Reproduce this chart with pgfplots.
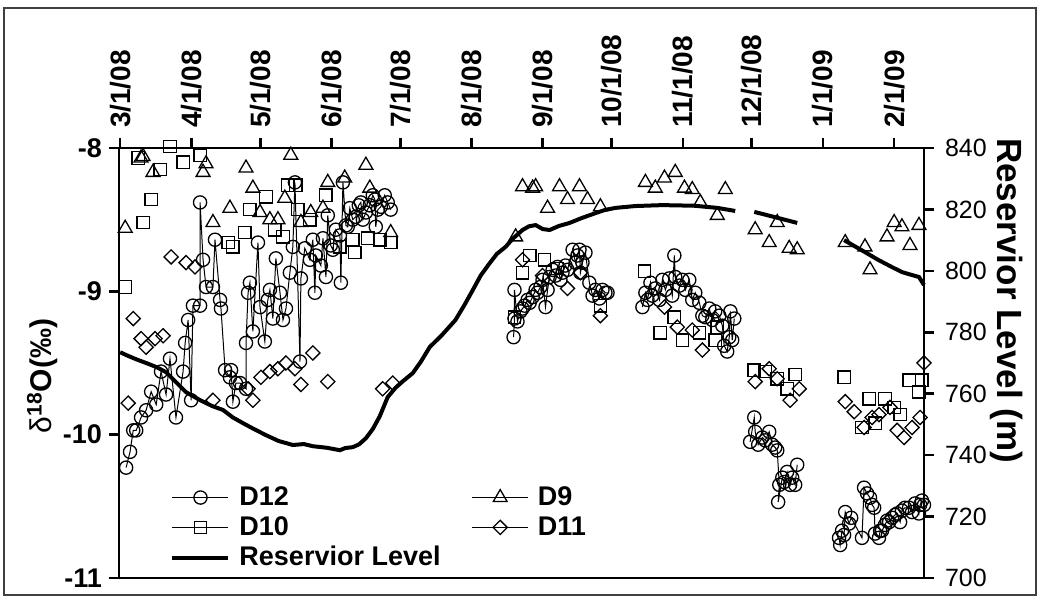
\documentclass[border=0pt]{standalone}
\usepackage{pgfplots}
\pgfplotsset{compat=1.18}
\usepackage{fontspec}
\setmainfont{Liberation Sans}
\pgfplotsset{
  common/.style={
    scale only axis, width=402.5pt, height=215pt,
    at={(59.5pt,12.5pt)}, anchor=south west,
    xmin=-0.5, xmax=350,
    clip=false,
    axis line style={line width=1.3pt},
    tick style={line width=1.3pt, black},
    major tick length=5pt,
    tick align=outside,
  },
  lg/.style={legend image code/.code={
     \draw[black, line width=0.6pt] (0pt,0pt) -- (28pt,0pt);
     \draw[##1, mark repeat=1] plot coordinates {(14pt,0pt)};}},
}
\begin{document}
\begin{tikzpicture}[x=0.5pt,y=0.5pt]
\useasboundingbox (0,0) rectangle (1041,603);
\draw[line width=1pt, black!75] (4,8) rectangle (1036,595);
\begin{axis}[common,
  ymin=-11, ymax=-8,
  ytick={-11,-10,-9,-8}, yticklabels={-11,-10,-9,-8},
  ytick pos=left,
  xtick pos=right, xticklabel pos=right,
  xtick={0,31,61,92,122,153,184,214,245,275,306,337},
  xticklabels={3/1/08,4/1/08,5/1/08,6/1/08,7/1/08,8/1/08,9/1/08,10/1/08,11/1/08,12/1/08,1/1/09,2/1/09},
  xticklabel style={rotate=90, anchor=west, xshift=1.5pt, font=\bfseries\fontsize{14}{16}\selectfont},
  yticklabel style={font=\bfseries\fontsize{13.5}{15}\selectfont},
  every axis y label/.style={at={(rel axis cs:-0.095,0.47)}, rotate=90, anchor=center},
  ylabel={\fontsize{15}{16}\selectfont δ\textsuperscript{\textbf{18}}\textbf{O(‰)}},
  legend columns=2,
  legend cell align=left,
  legend style={draw=none, fill=none, at={(rel axis cs:0.056,0.232)}, anchor=north west,
    font=\bfseries\fontsize{13.5}{14}\selectfont,
    /tikz/every odd column/.append style={column sep=2.5pt},
    /tikz/every even column/.append style={column sep=13.5pt}},
  unbounded coords=jump,
]
% D12
\addplot[black, line width=0.5pt, mark=o, mark size=3.3pt, mark options={line width=0.65pt}, lg] coordinates {
(2.6,-10.23) (4.3,-10.12) (5.7,-9.97) (7.0,-9.97) (9.1,-9.88) (11.3,-9.83) (13.5,-9.70) (15.7,-9.79) (17.8,-9.56) (20.0,-9.72) (21.7,-9.47) (24.3,-9.88) (27.4,-9.56) (28.3,-9.36) (29.6,-9.20) (30.9,-9.76) (31.7,-9.10) (34.8,-9.10) (34.8,-8.38) (36.1,-8.78) (37.4,-8.97) (40.4,-8.97) (41.3,-8.64) (43.5,-9.06) (43.9,-9.12) (45.7,-9.55) (47.8,-9.60) (48.3,-9.55) (49.1,-9.77) (50.4,-9.64) (52.2,-9.64) (54.8,-9.68) (54.8,-9.36) (55.7,-9.01) (56.5,-8.94) (57.8,-9.28) (60.0,-8.66) (60.9,-9.11) (63.0,-9.35) (64.3,-9.06) (65.2,-8.99) (66.5,-9.19) (67.8,-8.77) (69.6,-9.01) (70.9,-9.20) (72.2,-9.12) (73.9,-8.87) (75.2,-8.69) (76.1,-8.24) (78.3,-9.49) (78.7,-8.91) (80.4,-8.70) (82.6,-8.78) (83.9,-8.64) (84.8,-9.01) (85.2,-8.75) (87.4,-8.82) (88.3,-8.63) (89.6,-8.90) (90.4,-8.47) (91.7,-8.68) (92.6,-8.71) (93.9,-8.57) (95.7,-8.61) (96.1,-8.94) (97.0,-8.24) (98.3,-8.54) (99.1,-8.55) (100.0,-8.42) (101.3,-8.50) (102.6,-8.48) (103.9,-8.40) (104.8,-8.38) (105.7,-8.50) (107.0,-8.45) (108.7,-8.40) (110.0,-8.33) (110.9,-8.36) (111.3,-8.55) (112.2,-8.43) (113.5,-8.41) (115.2,-8.33) (116.5,-8.38) (117.8,-8.43)
(150,nan)
(171.3,-9.32) (171.7,-9.19) (171.7,-8.99) (173.0,-9.21) (174.3,-9.14) (175.2,-9.12) (176.1,-9.10) (177.4,-9.06) (178.3,-9.08) (179.6,-9.04) (180.9,-8.99) (181.7,-9.01) (183.0,-8.97) (183.9,-8.92) (185.2,-9.11) (186.1,-8.99) (187.0,-8.90) (188.3,-8.85) (189.6,-8.89) (190.4,-8.83) (191.7,-8.92) (192.6,-8.87) (193.9,-8.82) (194.8,-8.85) (197.0,-8.71) (198.3,-8.80) (199.1,-8.75) (200.0,-8.71) (200.4,-8.87) (201.3,-8.80) (202.6,-8.73) (204.3,-8.94) (205.7,-9.03) (206.9,-8.99) (208.7,-9.05) (210.0,-8.99) (211.3,-9.01) (212.2,-9.01)
(220,nan)
(227.4,-9.11) (228.7,-9.01) (229.6,-9.06) (230.9,-8.94) (231.7,-9.03) (233.0,-8.98) (234.8,-9.06) (236.1,-8.92) (237.4,-8.99) (239.1,-8.91) (240.4,-9.03) (241.3,-8.75) (241.7,-8.90) (243.5,-8.96) (244.8,-8.92) (246.1,-8.99) (247.8,-8.92) (249.1,-9.06) (250.4,-9.01) (252.2,-9.08) (253.5,-9.17) (254.8,-9.18) (256.5,-9.12) (257.8,-9.20) (259.1,-9.14) (260.9,-9.17) (262.2,-9.24) (263.0,-9.38) (264.3,-9.42) (265.2,-9.32) (265.7,-9.14) (266.5,-9.34) (267.4,-9.19)
(270,nan)
(274.3,-10.05) (276.1,-9.88) (276.5,-9.98) (277.8,-10.07) (279.6,-10.02) (280.9,-10.04) (282.6,-9.98) (283.9,-10.07) (285.2,-10.09) (286.1,-10.11) (287.0,-10.35) (286.5,-10.47) (288.3,-10.30) (289.1,-10.33) (290.4,-10.26) (291.7,-10.35) (292.6,-10.30) (293.9,-10.35) (294.8,-10.21)
(300,nan)
(313.0,-10.72) (313.5,-10.77) (314.3,-10.67) (315.2,-10.70) (315.7,-10.54) (317.4,-10.62) (318.3,-10.58) (323.0,-10.72) (323.9,-10.37) (325.2,-10.41) (326.5,-10.44) (327.4,-10.49) (328.3,-10.51) (328.7,-10.69) (330.4,-10.72) (330.9,-10.67) (331.7,-10.67) (333.0,-10.63) (333.9,-10.60) (334.8,-10.61) (336.1,-10.58) (337.4,-10.56) (338.3,-10.55) (339.6,-10.61) (340.4,-10.53) (341.7,-10.51) (343.5,-10.51) (344.8,-10.54) (346.1,-10.48) (347.8,-10.55) (348.3,-10.49) (349.1,-10.46) (350.0,-10.49)
};
\addlegendentry{D12}
% D9
\addplot[black, only marks, mark=triangle, mark size=4pt, mark options={line width=0.65pt}, lg] coordinates {
(2.2,-8.56) (9.1,-8.07) (10.0,-8.06) (14.3,-8.17) (36.1,-8.17) (37.4,-8.11) (54.8,-8.14) (74.3,-8.05) (57.8,-8.28) (47.8,-8.42) (40.4,-8.52) (60.9,-8.45) (65.2,-8.50) (68.7,-8.50) (71.7,-8.35) (78.7,-8.52) (83.0,-8.45) (88.3,-8.42) (90.4,-8.24) (97.8,-8.21) (107.0,-8.12) (108.7,-8.28) (117.8,-8.59)
(172.2,-8.62) (175.2,-8.27) (179.6,-8.28) (180.9,-8.27) (186.1,-8.42) (191.3,-8.27) (194.8,-8.36) (200.0,-8.27) (203.5,-8.36) (209.1,-8.41)
(228.7,-8.24) (233.0,-8.28) (237.0,-8.21) (241.7,-8.17) (245.7,-8.28) (249.1,-8.29) (252.6,-8.38) (260.0,-8.47) (263.5,-8.29)
(276.5,-8.57) (286.1,-8.52) (282.6,-8.66) (291.3,-8.70) (294.8,-8.71)
(315.7,-8.66) (324.3,-8.69) (326.5,-8.85) (333.9,-8.62) (337.0,-8.52) (340.4,-8.55) (343.9,-8.68) (347.8,-8.54)
};
\addlegendentry{D9}
% D10
\addplot[black, only marks, mark=square, mark size=3.1pt, mark options={line width=0.65pt}, lg] coordinates {
(2.2,-8.97) (7.8,-8.07) (21.7,-7.99) (27.4,-8.10) (17.4,-8.15) (13.5,-8.36) (10.0,-8.52) (34.8,-8.05) (54.3,-8.59) (49.1,-8.69) (47.0,-8.66) (56.5,-8.43) (63.5,-8.34) (73.0,-8.26) (76.5,-8.26) (77.4,-8.43) (70.9,-8.62) (67.4,-8.57) (89.6,-8.33) (82.6,-8.50) (101.3,-8.64) (102.2,-8.73) (107.8,-8.63) (113.0,-8.64) (117.8,-8.66) (95.7,-8.69)
(178.3,-8.75) (175.2,-8.87) (184.8,-8.78) (190.4,-8.84) (171.7,-9.18) (209.1,-9.10)
(228.3,-8.86) (235.2,-9.29) (241.3,-9.18) (244.8,-9.34) (252.2,-9.29) (259.1,-9.34) (260.0,-9.25)
(276.1,-9.55) (280.9,-9.56) (286.1,-9.61) (290.4,-9.68) (293.9,-9.58)
(315.2,-9.60) (326.1,-9.75) (323.0,-9.95) (328.7,-9.92) (333.0,-9.75) (337.0,-9.81) (339.6,-9.86) (343.5,-9.62) (347.8,-9.70) (349.1,-9.62)
};
\addlegendentry{D10}
% D11
\addplot[black, only marks, mark=square, mark size=2.5pt, mark options={line width=0.65pt, rotate=45}, lg] coordinates {
(22.2,-8.76) (28.7,-8.80) (32.6,-8.83) (5.7,-9.19) (9.1,-9.33) (11.3,-9.39) (15.2,-9.33) (18.7,-9.31) (3.5,-9.78) (40.4,-9.76) (57.8,-9.76) (55.7,-9.68) (61.3,-9.60) (65.2,-9.56) (68.7,-9.54) (72.2,-9.50) (76.1,-9.54) (83.9,-9.43) (78.7,-9.65) (90.4,-9.63) (114.3,-9.68) (118.7,-9.64)
(175.2,-8.78) (183.9,-8.89) (194.8,-8.98) (200.4,-8.87) (209.1,-9.17)
(237.0,-9.11) (242.6,-9.25) (249.1,-9.27) (253.5,-9.41)
(276.5,-9.63) (282.6,-9.54) (286.1,-9.61) (291.7,-9.76) (295.7,-9.68)
(315.7,-9.77) (319.6,-9.84) (323.9,-9.95) (327.4,-9.88) (330.4,-9.86) (335.2,-9.81) (338.3,-9.97) (341.3,-10.02) (344.8,-9.95) (348.3,-9.88) (350.0,-9.50)
};
\addlegendentry{D11}
\addlegendimage{black, line width=2pt, legend image code/.code={\draw[black, line width=2pt] (0pt,0pt) -- (28pt,0pt);}}
\addlegendentry{Reservior Level}
\end{axis}
\begin{axis}[common,
  ymin=700, ymax=840,
  ytick={700,720,740,760,780,800,820,840},
  yticklabels={700,720,740,760,780,800,820,840},
  ytick pos=right, yticklabel pos=right,
  xtick=\empty,
  yticklabel style={font=\fontsize{12.5}{14}\selectfont, xshift=2pt},
  every axis y label/.style={at={(rel axis cs:1.102,0.645)}, rotate=-90, anchor=center},
  ylabel={\bfseries\fontsize{17.5}{19}\selectfont Reservior Level (m)},
  unbounded coords=jump,
]
\addplot[black, line width=2pt] coordinates {
(0,773.5) (2.6,772.6) (7,771.2) (11.3,770.0) (16,768.6) (20.0,767.0) (24,764.0) (28.7,760.5) (34.8,757.9) (40,756.0) (44.8,754.7) (49,752.3) (53.5,750.4) (58,748.6) (63.5,746.5) (69,744.6) (75.2,743.3) (80,743.6) (83.9,742.9) (90,742.4) (95.7,741.6) (98,742.3) (101.3,742.6) (104,743.5) (107,745.5) (110,748.5) (113,752.6) (116.5,758.9) (120,762.0) (123,764.0) (127.4,766.7) (131,770.5) (134.8,775.2) (140,779.0) (146,784.0) (150,789.0) (153.5,793.7) (157,798.5) (160.9,802.5) (164,805.5) (167.8,807.8) (171,810.5) (175.2,813.3) (178,814.5) (180.9,814.9) (184,813.6) (187,813.3) (191,814.6) (195.7,815.6) (201,817.2) (207,818.8) (211,819.8) (215.7,820.5) (224.3,821.1) (236.1,821.4) (250,821.2) (260,820.5) (267.8,819.5)
(271,nan)
(276.1,819.2) (285,817.5) (294.8,815.6)
(300,nan)
(315.2,810.0) (324.3,806.1) (330,803.6) (336.1,801.2) (340.4,799.6) (344,798.8) (347.8,798.0) (350,795.4)
};
\end{axis}
\end{tikzpicture}
\end{document}
